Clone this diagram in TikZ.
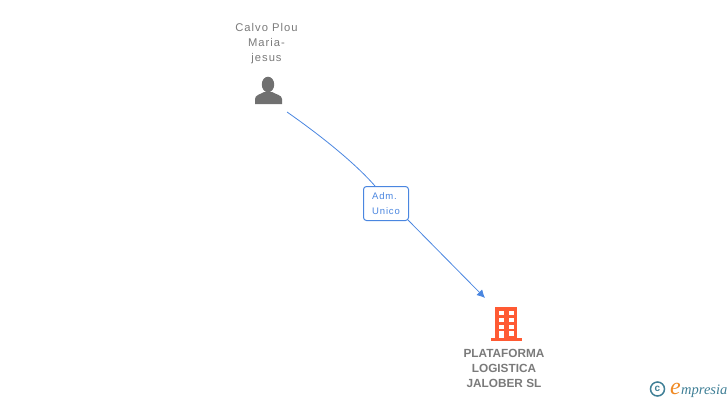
\documentclass[tikz,border=0pt]{standalone}
\usepackage{fontspec}
\setmainfont{Liberation Sans}
\newfontfamily\spacedfont[LetterSpace=9]{Liberation Sans}
\newfontfamily\logofont{Liberation Serif}
\usepackage{xcolor}
\usetikzlibrary{positioning}
\usetikzlibrary{arrows.meta}
\definecolor{linkblue}{HTML}{4A86E0}
\definecolor{iconorange}{HTML}{FF5A33}
\definecolor{icongrey}{HTML}{707070}
\definecolor{labelgrey}{HTML}{7A7A7A}
\definecolor{logoteal}{HTML}{3F7F96}
\definecolor{logoorange}{HTML}{F08A24}
\tikzset{
  personlabel/.style={align=center,text=labelgrey,font=\fontsize{11.2}{15}\spacedfont,inner sep=0pt},
  firmlabel/.style={align=center,text=labelgrey,font=\fontsize{11.8}{15}\selectfont\bfseries,inner sep=0pt},
  rolebox/.style={draw=linkblue,fill=white,rounded corners=3pt,line width=1pt,align=left,
    minimum width=45pt,minimum height=34pt,inner sep=0pt,text=linkblue,
    font=\fontsize{9.5}{15}\spacedfont},
  link/.style={draw=linkblue,line width=.8pt}
}
\begin{document}
\begin{tikzpicture}[x=1pt,y=-1pt]
  \useasboundingbox (0,0) rectangle (728,400);
  % person
  \node[personlabel] (person) at (266.5,43.5) {Calvo Plou\\Maria-\\jesus};
  \fill[icongrey] (268,84.5) ellipse (6.2 and 7.8);
  \fill[icongrey] (255,104) -- (255,99) .. controls (255,95) and (260,94.5) .. (264,92)
    -- (272,92) .. controls (276,94.5) and (282,95) .. (282,99) -- (282,104) -- cycle;
  % building
  \fill[iconorange] (495,307) rectangle (517,338);
  \fill[iconorange] (491,338) rectangle (522,341);
  \foreach \x in {499,509}
    \foreach \y in {310.5,317.5,324.5}
      \fill[white] (\x,\y) rectangle (\x+5,\y+4.7);
  \fill[white] (499,331) rectangle (504,338);
  \fill[white] (509,331) rectangle (514,335.5);
  \node[firmlabel] (firm) at (504,368) {PLATAFORMA\\LOGISTICA\\JALOBER SL};
  % connector
  \node[rolebox] (role) at (386,203.5) {Adm.\\Unico};
  \coordinate (linkstart) at (287,112);
  \coordinate (linkend) at (485,298);
  \draw[link] (linkstart) .. controls (320,135) and (355,163) .. (role.north west -| 375,186);
  \draw[link,-{Latex[length=8pt,width=8pt]}] (role.south east) ++(-1,-1) -- (linkend);
  % logo
  \node[circle,draw=logoteal,line width=1.5pt,minimum size=14pt,inner sep=0pt,text=logoteal,
    font=\fontsize{10}{10}\selectfont\bfseries] (copyr) at (657.5,389) {c};
  \node[anchor=base west,inner sep=0pt,text=logoorange,font=\fontsize{24}{24}\logofont\itshape] (logoe) at (670,394) {e};
  \node[anchor=base west,inner sep=0pt,text=logoteal,font=\fontsize{14.5}{14.5}\logofont\itshape] (logotext) at (681,394) {mpresia};
\end{tikzpicture}
\end{document}
